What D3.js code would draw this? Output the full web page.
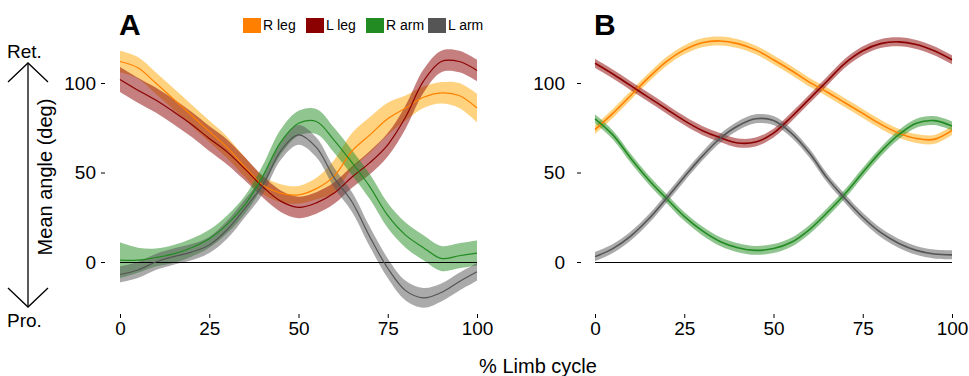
<!DOCTYPE html>
<html>
<head>
<meta charset="utf-8">
<script src="https://cdn.jsdelivr.net/npm/d3@7"></script>
<style>
  body { margin: 0; background: #fff; }
  svg { display: block; font-family: "Liberation Sans", Arial, sans-serif; }
</style>
</head>
<body>
<svg id="chart" width="969" height="376"></svg>
<script>
// limb cycle sample positions (%)
const cycle = [0, 5, 10, 15, 20, 25, 30, 35, 40, 45, 50, 55, 60, 65, 70, 75, 80, 85, 90, 95, 100];

// panel A: measured mean angles (deg) and band half-widths
const rLegA = [112, 108.5, 100, 91, 82, 73, 64, 53, 43, 38.5, 37.5, 41, 48, 62, 71, 80, 86, 92, 94.5, 93, 86];
const lLegA = [102, 96, 90.5, 84, 77, 69, 61.5, 52, 42, 34, 30.5, 33, 38.5, 47.5, 55.5, 65.5, 81, 101, 112, 112, 107];
const rArmA = [1, 1, 2.5, 4.5, 8, 13, 21, 32, 48, 67, 77.5, 78.5, 68, 55.5, 42, 26, 15, 8, 2, 3.5, 5];
const lArmA = [-7, -4.5, 0, 3, 5.5, 9.5, 18, 30, 43, 62, 71, 64, 47, 33.5, 14, -3.5, -16, -20, -17, -11, -5.5];
const rLegAErr = [6, 6, 6, 6, 6, 6, 6, 5.5, 5, 5, 5, 6, 9, 10, 10, 9, 7, 6, 6, 7, 8];
const lLegAErr = [7, 7, 7, 7, 7, 7, 7, 6.5, 6, 6, 6, 6, 6, 6, 6.5, 6.5, 6.5, 6.5, 6, 6, 6];
const rArmAErr = [10, 7, 5, 5, 5, 5, 5, 5, 6, 7, 7, 7, 7, 7, 7, 7, 7, 7, 7, 7, 7];
const lArmAErr = [4.5, 4.5, 4.5, 4.5, 4.5, 4.5, 5, 5, 5, 5, 5.5, 5.5, 5.5, 5.5, 5.5, 5.5, 5.5, 5.5, 5, 5, 5];

// panel B: mean angles (deg) and band half-widths
const rLegB = [74, 83, 93, 103, 112, 118.5, 122.5, 123.5, 122, 118.5, 113, 107, 100.5, 95, 89, 83, 77, 72, 69, 68.5, 73.5];
const lLegB = [111, 105, 98.5, 92, 85.5, 79, 73.5, 69.5, 66.5, 67, 72, 81, 91, 101, 111, 118, 122, 123, 121.5, 118, 113];
const rArmB = [80, 71, 58, 46, 35.5, 25.5, 17.5, 11.5, 8, 6.5, 7.5, 11, 18, 27.5, 38, 50, 61.5, 71, 77.5, 79, 76];
const lArmB = [3, 7.5, 14.5, 24, 35.5, 47.5, 59, 69, 76, 80, 79, 72, 61, 47, 35.5, 25, 16.5, 10.5, 6.5, 4.5, 4];
const bandB = [2.5, 2.5, 2.5, 2.5, 2.5, 2.5, 2.5, 2.5, 2.5, 2.5, 2.5, 2.5, 2.5, 2.5, 2.5, 2.5, 2.5, 2.5, 2.5, 2.5, 2.5];

const limbNames = ['R leg', 'L leg', 'R arm', 'L arm'];
const lineColors = ['#ff8000', '#8b0000', '#228b22', '#555555'];
const bandColors = ['#ffa500', '#8b0000', '#228b22', '#555555'];
const xTicks = [0, 25, 50, 75, 100];
const yTicks = [0, 50, 100];

const svg = d3.select('#chart');

const y = d3.scaleLinear().domain([0, 100]).range([262, 83]);

const panels = [
  { label: 'A', x0: 120, axisX: 101, pad: 1, series: [rLegA, lLegA, rArmA, lArmA], errs: [rLegAErr, lLegAErr, rArmAErr, lArmAErr] },
  { label: 'B', x0: 595, axisX: 577, pad: 8, series: [rLegB, lLegB, rArmB, lArmB], errs: [bandB, bandB, bandB, bandB] }
];

panels.forEach(p => {
  const x = d3.scaleLinear().domain([0, 100]).range([p.x0, p.x0 + 357]);
  const g = svg.append('g');

  // bands
  p.series.forEach((vals, i) => {
    const area = d3.area()
      .x((d, j) => x(cycle[j]))
      .y0((d, j) => y(d - p.errs[i][j]))
      .y1((d, j) => y(d + p.errs[i][j]))
      .curve(d3.curveCatmullRom);
    g.append('path')
      .attr('d', area(vals))
      .attr('fill', bandColors[i])
      .attr('fill-opacity', 0.5);
  });

  // zero line
  g.append('line')
    .attr('x1', x(0)).attr('x2', x(100))
    .attr('y1', y(0) + 0.5).attr('y2', y(0) + 0.5)
    .attr('stroke', '#000').attr('stroke-width', 1.3)
    .attr('shape-rendering', 'crispEdges');

  // mean lines
  p.series.forEach((vals, i) => {
    const line = d3.line()
      .x((d, j) => x(cycle[j]))
      .y(d => y(d))
      .curve(d3.curveCatmullRom);
    g.append('path')
      .attr('d', line(vals))
      .attr('fill', 'none')
      .attr('stroke', lineColors[i])
      .attr('stroke-width', p.label === 'A' ? 1.2 : 1.6);
  });

  // y axis
  const yAxis = g.append('g')
    .attr('transform', `translate(${p.axisX},0)`)
    .call(d3.axisLeft(y).tickValues(yTicks).tickSize(-4).tickPadding(p.pad + 4).tickFormat(d3.format('d')));
  yAxis.select('.domain').remove();
  yAxis.selectAll('.tick line').attr('stroke', '#000').attr('stroke-width', 1);
  yAxis.selectAll('text').attr('font-size', 19).attr('fill', '#000');

  // x axis
  const xAxis = g.append('g')
    .attr('transform', 'translate(0,314)')
    .call(d3.axisBottom(x).tickValues(xTicks).tickSize(4).tickPadding(4).tickFormat(d3.format('d')));
  xAxis.select('.domain').remove();
  xAxis.selectAll('.tick line').attr('stroke', '#000').attr('stroke-width', 1);
  xAxis.selectAll('text').attr('font-size', 19).attr('fill', '#000');

  // panel letter
  svg.append('text')
    .attr('x', p.x0 - 1).attr('y', 35)
    .attr('font-size', 30).attr('font-weight', 'bold')
    .text(p.label);
});

// legend
const legendX = [243, 306, 366, 428];
const legend = svg.append('g');
limbNames.forEach((name, i) => {
  legend.append('rect')
    .attr('x', legendX[i]).attr('y', 18)
    .attr('width', 18).attr('height', 15)
    .attr('fill', lineColors[i]);
  legend.append('text')
    .attr('x', legendX[i] + 20).attr('y', 30)
    .attr('font-size', 14)
    .text(name);
});

// axis titles
svg.append('text')
  .attr('x', 538).attr('y', 373)
  .attr('text-anchor', 'middle')
  .attr('font-size', 20)
  .text('% Limb cycle');

svg.append('text')
  .attr('transform', 'translate(52,177) rotate(-90)')
  .attr('text-anchor', 'middle')
  .attr('font-size', 20)
  .text('Mean angle (deg)');

// protraction / retraction arrow
const arrow = svg.append('g').attr('stroke', '#000').attr('stroke-width', 1.3).attr('fill', 'none');
arrow.append('line').attr('x1', 28).attr('x2', 28).attr('y1', 63).attr('y2', 307);
arrow.append('path').attr('d', 'M8,82 L28,63 L48,82');
arrow.append('path').attr('d', 'M8,288 L28,307 L48,288');

svg.append('text').attr('x', 7).attr('y', 58).attr('font-size', 19).text('Ret.');
svg.append('text').attr('x', 7).attr('y', 327).attr('font-size', 19).text('Pro.');
</script>
</body>
</html>
